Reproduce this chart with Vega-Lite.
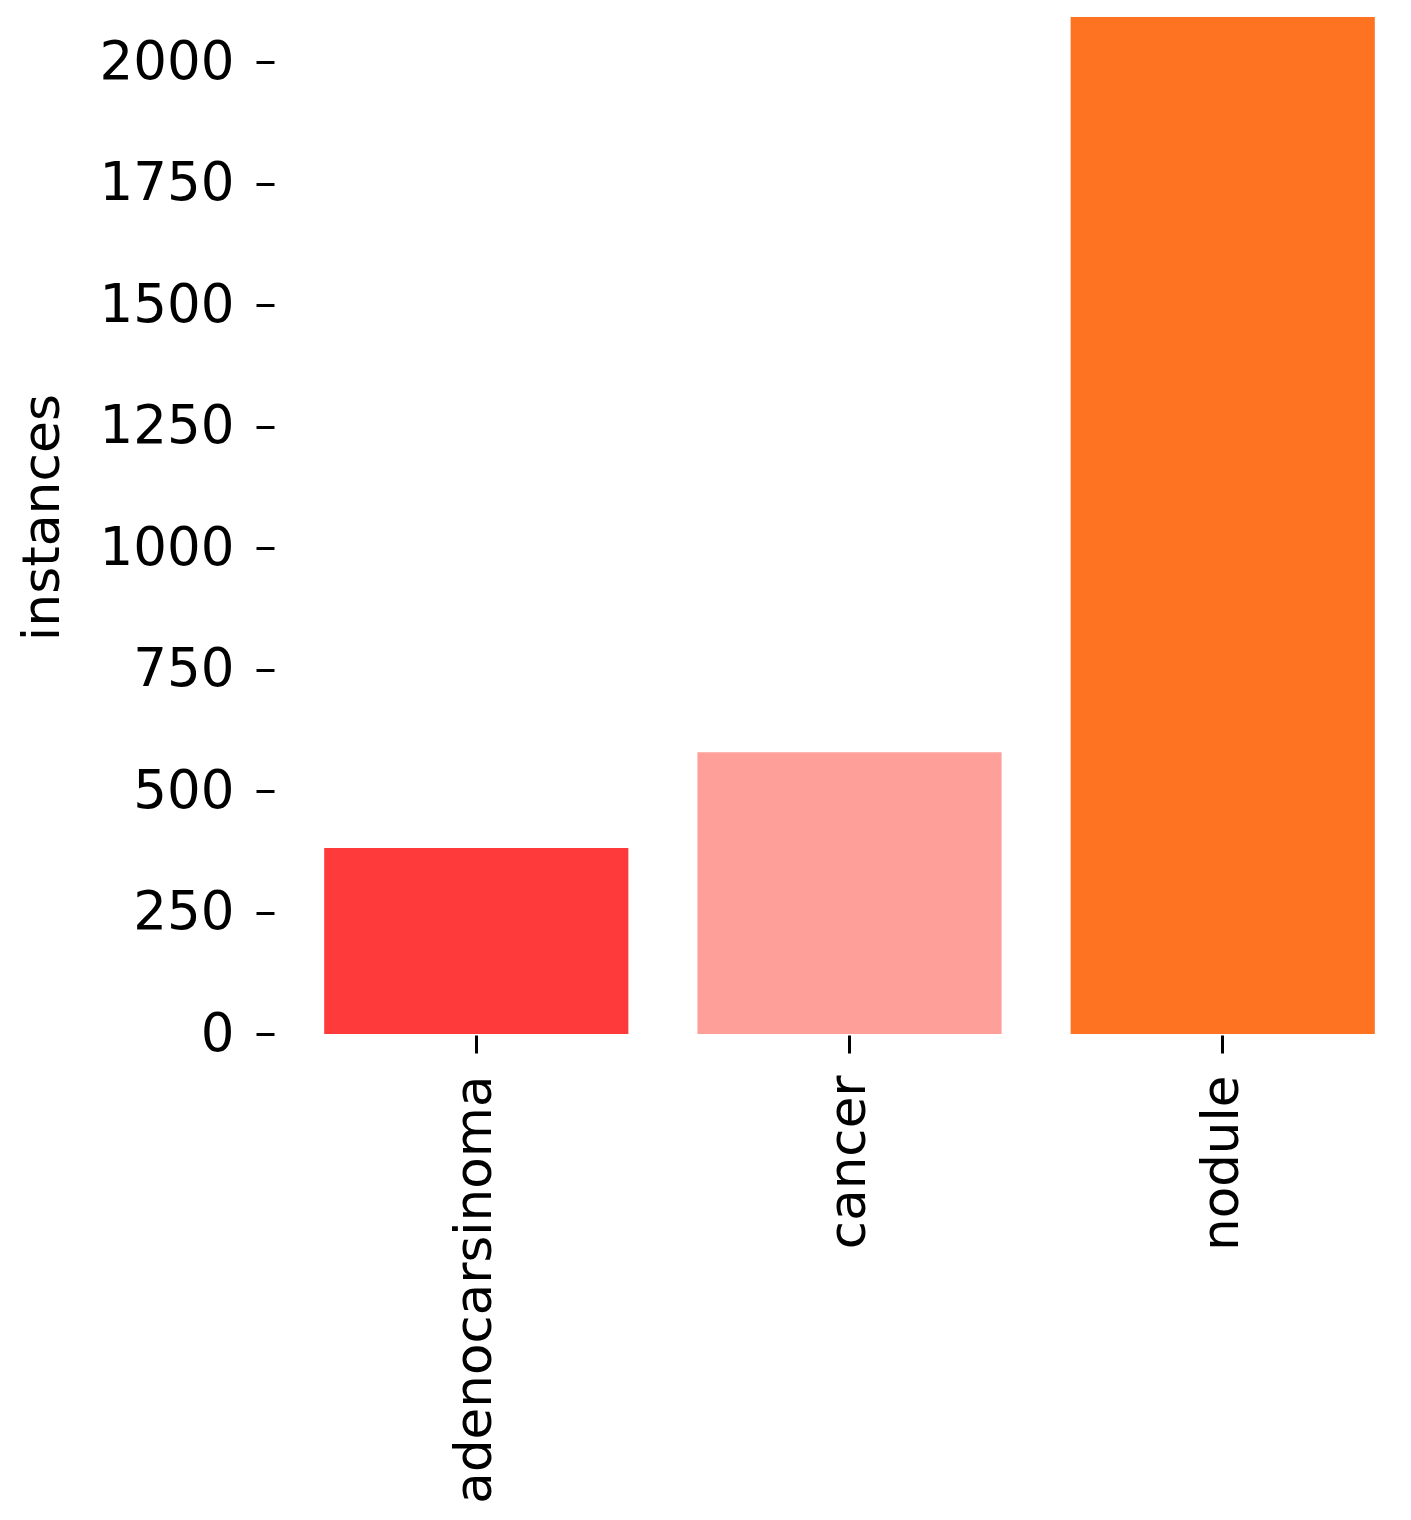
{
  "$schema": "https://vega.github.io/schema/vega-lite/v6.json",
  "autosize": "none",
  "padding": {"left": 288, "top": 0, "right": 0, "bottom": 486},
  "width": 1123,
  "height": 1034,
  "background": "white",
  "data": {"values": [
    {"label": "adenocarsinoma", "instances": 383},
    {"label": "cancer", "instances": 580},
    {"label": "nodule", "instances": 2093}
  ]},
  "mark": {"type": "bar"},
  "encoding": {
    "x": {
      "field": "label", "type": "nominal", "sort": null,
      "scale": {"paddingInner": 0.185, "paddingOuter": 0.097},
      "axis": {
        "title": null, "domain": false, "labelAngle": 270, "labelLimit": 1000,
        "labelFont": "DejaVu Sans", "labelFontSize": 51.5, "labelColor": "black",
        "tickSize": 18, "tickWidth": 3, "tickColor": "black",
        "labelPadding": 22, "offset": 1
      }
    },
    "y": {
      "field": "instances", "type": "quantitative",
      "scale": {"domain": [0, 2128], "nice": false},
      "axis": {
        "title": "instances", "values": [0, 250, 500, 750, 1000, 1250, 1500, 1750, 2000],
        "format": "d",
        "grid": false, "domain": false, "offset": 14,
        "labelFont": "DejaVu Sans", "labelFontSize": 53, "labelColor": "black",
        "tickSize": 18, "tickWidth": 3, "tickColor": "black", "labelPadding": 22,
        "titleFont": "DejaVu Sans", "titleFontSize": 52, "titleFontWeight": "normal",
        "titleColor": "black", "titlePadding": 30
      }
    },
    "color": {
      "field": "label", "type": "nominal", "legend": null,
      "scale": {"domain": ["adenocarsinoma", "cancer", "nodule"], "range": ["#FF3A3A", "#FE9F99", "#FD7321"]}
    }
  },
  "config": {"view": {"stroke": null}}
}
